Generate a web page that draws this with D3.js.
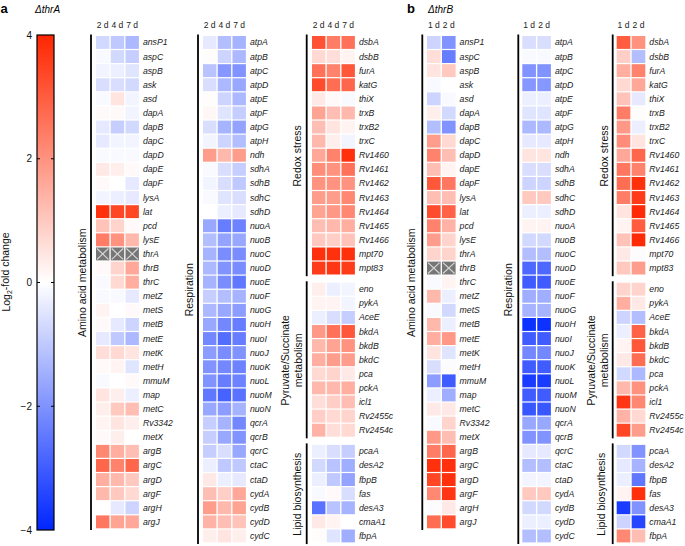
<!DOCTYPE html>
<html lang="en">
<head>
<meta charset="UTF-8">
<script src="https://cdn.jsdelivr.net/npm/d3@7"></script>
<title>thrA / thrB heatmap</title>
<style>
    body { margin: 0; background: #fff; }
    svg { font-family: "Liberation Sans", Arial, sans-serif; }
    .gene { font-size: 8.7px; font-style: italic; fill: #222; }
    .day { font-size: 8.5px; fill: #222; }
    .group { font-size: 10.5px; fill: #111; }
    .cbtick text { font-size: 10px; fill: #111; }
</style>
</head>
<body>
<svg id="chart" width="685" height="546"></svg>
<script>
// ---- data ----
const daysA = ["2 d", "4 d", "7 d"];
const daysB = ["1 d", "2 d"];
const cbTicks = [-4, -2, 0, 2, 4];

const aminoGenes = ["ansP1", "aspC", "aspB", "ask", "asd", "dapA", "dapB", "dapC", "dapD", "dapE", "dapF", "lysA", "lat", "pcd", "lysE", "thrA", "thrB", "thrC", "metZ", "metS", "metB", "metE", "metK", "metH", "mmuM", "map", "metC", "Rv3342", "metX", "argB", "argC", "argD", "argF", "argH", "argJ"];
const respGenes = ["atpA", "atpB", "atpC", "atpD", "atpE", "atpF", "atpG", "atpH", "ndh", "sdhA", "sdhB", "sdhC", "sdhD", "nuoA", "nuoB", "nuoC", "nuoD", "nuoE", "nuoF", "nuoG", "nuoH", "nuoI", "nuoJ", "nuoK", "nuoL", "nuoM", "nuoN", "qcrA", "qcrB", "qcrC", "ctaC", "ctaD", "cydA", "cydB", "cydD", "cydC"];
const redoxGenes = ["dsbA", "dsbB", "furA", "katG", "thiX", "trxB", "trxB2", "trxC", "Rv1460", "Rv1461", "Rv1462", "Rv1463", "Rv1464", "Rv1465", "Rv1466", "mpt70", "mpt83"];
const pyrGenes = ["eno", "pykA", "AceE", "bkdA", "bkdB", "bkdC", "pca", "pckA", "icl1", "Rv2455c", "Rv2454c"];
const lipidGenes = ["pcaA", "desA2", "fbpB", "fas", "desA3", "cmaA1", "fbpA"];

// log2 fold change, ΔthrA (2 d, 4 d, 7 d); null = deleted gene
const aminoA = [[-0.7,-1.0,-1.3],[-0.1,-0.7,-0.9],[-0.2,-0.3,-0.5],[-0.6,-0.6,-0.7],[-0.1,0.5,-0.2],[0.1,0.1,-0.2],[-0.4,-0.9,-0.7],[-0.4,-0.2,-0.2],[-0.1,-0.1,-0.1],[0.4,0.3,0.1],[0.1,0,-0.4],[-0.2,-0.3,-0.4],[3.8,3.4,3.4],[1.1,0.8,0.1],[2.4,2.0,1.3],null,[0.1,0.8,1.6],[-0.1,0.7,1.5],[-0.1,-0.1,-0.4],[0.2,0,0.1],[0.1,-0.4,-0.8],[-0.4,-1.0,-1.3],[0.6,0.7,0.5],[0.1,0.2,-0.5],[-0.1,0,0.1],[0.5,0.3,-0.3],[0.3,1.0,1.2],[0.2,0.5,0.3],[0.1,0.3,0],[2.2,1.5,1.2],[2.8,2.3,2.8],[1.5,1.3,1.0],[1.3,1.0,0.7],[0,-0.4,-0.8],[2.5,1.7,1.6]];
const respA = [[-0.4,-1.2,-1.4],[0.05,-0.8,-1.3],[-1.1,-1.9,-2.0],[-0.6,-1.3,-1.6],[0.05,-0.8,-1.3],[0.15,-0.5,-0.9],[-0.6,-1.4,-1.7],[-0.2,-0.8,-1.2],[1.8,1.3,1.8],[-0.1,-0.6,-0.9],[-0.2,-0.6,-1.0],[-0.1,-0.5,-0.6],[0,-0.3,-0.4],[-1.6,-2.4,-2.3],[-1.2,-1.7,-1.6],[-1.4,-2.1,-2.1],[-1.3,-2.0,-2.1],[-1.4,-2.1,-2.5],[-0.9,-1.2,-1.4],[-1.3,-1.6,-1.8],[-1.6,-2.2,-2.4],[-2.2,-2.7,-2.4],[-1.8,-2.1,-2.0],[-2.0,-2.2,-2.3],[-2.0,-2.4,-2.3],[-2.5,-2.9,-2.6],[-1.6,-1.8,-1.4],[-0.9,-1.4,-2.2],[-0.9,-1.6,-2.0],[-0.9,-0.6,-1.6],[-0.3,-1.0,-1.0],[0.4,-0.3,-0.4],[1.2,0.9,1.6],[1.8,1.3,1.7],[1.4,1.2,1.1],[0.3,0.5,0.3]];
const redoxA = [[3.2,2.4,2.6],[0.7,0.6,0.2],[2.6,2.3,3.1],[3.3,2.7,2.8],[0.4,0.1,-0.1],[1.7,1.2,1.3],[1.2,0.5,0.2],[1.3,0.3,-0.2],[1.6,2.3,3.8],[2.1,2.0,2.6],[2.0,2.0,2.0],[1.8,1.8,2.2],[1.7,1.9,2.2],[1.2,1.3,1.5],[1.0,0.9,1.1],[3.8,3.8,3.8],[3.6,3.7,3.6]];
const pyrA = [[0.3,-0.3,-0.2],[0.2,0.2,-0.2],[-0.3,-0.6,-0.9],[1.9,2.6,3.1],[1.3,1.7,2.0],[1.5,1.8,1.8],[0.7,0.8,0.4],[1.3,1.3,1.5],[0.6,0.9,1.2],[0.9,0.7,0.8],[1.4,0.6,0.7]];
const lipidA = [[-0.3,-0.6,-0.9],[-0.7,-1.1,-1.5],[-0.3,-1.0,-1.7],[-0.1,0.1,-0.6],[-2.6,-1.1,-1.4],[0.4,0.2,0],[0.05,-0.5,-1.5]];

// log2 fold change, ΔthrB (1 d, 2 d)
const aminoB = [[-0.8,-2.0],[0.6,-2.4],[0.5,1.0],[-0.1,0],[-0.8,-0.1],[0.3,-0.7],[-1.2,-2.0],[1.8,0.7],[2.3,1.2],[1.2,0.2],[3.1,2.5],[1.2,1.2],[3.3,2.9],[2.3,1.4],[1.8,0.8],[0.8,0.8],null,[-0.1,0.2],[1.3,-0.3],[-0.1,-0.7],[1.3,-0.3],[1.5,1.9],[0.5,-0.5],[-0.6,-0.05],[-1.8,-3.0],[-0.3,-1.5],[0.4,0.4],[-0.1,0.8],[1.9,1.2],[2.4,2.8],[3.8,3.8],[3.4,3.8],[2.2,3.7],[-0.05,0.4],[2.7,3.3]];
const respB = [[-0.6,-0.6],[-0.1,-0.1],[-2.0,-2.0],[-1.9,-1.9],[-0.3,-0.3],[-0.5,-0.5],[-1.3,-1.3],[-0.4,-0.4],[0.5,0.5],[-0.6,-0.6],[-0.8,-0.8],[1.0,1.0],[-0.3,-0.3],[0.2,0.2],[-0.7,-0.7],[-1.2,-1.2],[-2.8,-2.8],[-3.0,-3.0],[-1.5,-1.5],[-1.4,-1.4],[-3.8,-3.8],[-3.0,-3.0],[-2.2,-2.2],[-3.0,-3.0],[-3.6,-3.6],[-3.0,-3.0],[-3.1,-3.1],[-1.6,-1.6],[-2.0,-2.0],[-0.4,-0.4],[-1.2,-1.2],[-0.2,-0.2],[1.0,1.0],[-0.7,-0.7],[-0.3,-0.3],[-1.2,-1.2]];
const redoxB = [[3.0,2.0],[0.9,-1.2],[1.5,2.3],[0.7,1.6],[1.1,-0.4],[2.4,0.05],[1.9,-0.3],[2.1,0.5],[1.6,2.8],[2.5,2.3],[2.7,3.8],[2.4,3.6],[0.5,3.9],[0.2,3.0],[1.1,3.9],[0.4,-0.05],[1.0,1.8]];
const pyrB = [[0.8,0.8],[1.5,0.4],[-0.8,-1.2],[-0.3,2.9],[0.2,3.1],[0.4,2.7],[-0.7,-1.3],[1.3,2.0],[3.7,2.2],[1.4,0.7],[3.4,1.8]];
const lipidB = [[-0.7,-2.0],[-0.4,-1.4],[-0.3,-2.5],[0.2,3.8],[-3.6,-2.0],[-0.8,-3.4],[2.2,1.2]];

// ---- layout ----
const svg = d3.select("#chart");
const color = d3.scaleLinear().domain([-4, 0, 4]).range(["#0026ff", "#ffffff", "#ff2600"]);
const pitchX = 14.3;
const rowY = d3.scaleLinear().domain([0, 36]).range([36, 36 + 36 * 14.1]);
const rowH = rowY(1) - rowY(0);

const blocks = [
    {genes: aminoGenes, values: aminoA, days: daysA, slot: 0, x0: 96, lineX: 91, label: ["Amino acid metabolism"], labelX: [82], header: true},
    {genes: respGenes, values: respA, days: daysA, slot: 0, x0: 203, lineX: 198, label: ["Respiration"], labelX: [189], header: true},
    {genes: redoxGenes, values: redoxA, days: daysA, slot: 0, x0: 312, lineX: 306.7, label: ["Redox stress"], labelX: [297], header: true},
    {genes: pyrGenes, values: pyrA, days: daysA, slot: 17.5, x0: 312, lineX: 306.7, label: ["Pyruvate/Succinate", "metabolism"], labelX: [285, 298]},
    {genes: lipidGenes, values: lipidA, days: daysA, slot: 29, x0: 312, lineX: 306.7, label: ["Lipid biosynthesis"], labelX: [297]},
    {genes: aminoGenes, values: aminoB, days: daysB, slot: 0, x0: 427, lineX: 422.3, label: ["Amino acid metabolism"], labelX: [411], header: true},
    {genes: respGenes, values: respB, days: daysB, slot: 0, x0: 522.3, lineX: 518.3, label: ["Respiration"], labelX: [508], header: true},
    {genes: redoxGenes, values: redoxB, days: daysB, slot: 0, x0: 616.7, lineX: 612.7, label: ["Redox stress"], labelX: [604], header: true},
    {genes: pyrGenes, values: pyrB, days: daysB, slot: 17.5, x0: 616.7, lineX: 612.7, label: ["Pyruvate/Succinate", "metabolism"], labelX: [591, 604.5]},
    {genes: lipidGenes, values: lipidB, days: daysB, slot: 29, x0: 616.7, lineX: 612.7, label: ["Lipid biosynthesis"], labelX: [601.5]}
];

blocks.forEach(b => {
    const x = d3.scaleBand().domain(b.days).range([b.x0, b.x0 + b.days.length * pitchX]).paddingInner(0.09);
    const g = svg.append("g");
    const top = rowY(b.slot), bottom = rowY(b.slot + b.genes.length);

    b.genes.forEach((gene, i) => {
        const y = rowY(b.slot + i);
        const vals = b.values[i];
        b.days.forEach((day, j) => {
            if (vals === null) {
                const cx = x(day), w = x.bandwidth(), h = rowH - 1.2;
                g.append("rect").attr("x", cx).attr("y", y).attr("width", w).attr("height", h).attr("fill", "#767676");
                g.append("path")
                    .attr("d", `M${cx + 1},${y + 1}L${cx + w - 1},${y + h - 1}M${cx + w - 1},${y + 1}L${cx + 1},${y + h - 1}`)
                    .attr("stroke", "#d8d8d8").attr("stroke-width", 1.1);
            } else {
                g.append("rect")
                    .attr("x", x(day)).attr("y", y)
                    .attr("width", x.bandwidth()).attr("height", rowH - 1.2)
                    .attr("fill", color(vals[j]));
            }
        });
        g.append("text").attr("class", "gene")
            .attr("x", b.x0 + b.days.length * pitchX + 4)
            .attr("y", y + rowH / 2 - 0.6).attr("dy", "0.35em")
            .text(gene);
    });

    if (b.header) {
        g.selectAll(".day").data(b.days).enter().append("text").attr("class", "day")
            .attr("x", d => x(d) + x.bandwidth() / 2).attr("y", 28)
            .attr("text-anchor", "middle").text(d => d);
    }

    g.append("line").attr("x1", b.lineX).attr("x2", b.lineX)
        .attr("y1", top - 1.5).attr("y2", bottom + 0.5)
        .attr("stroke", "#000").attr("stroke-width", 1.8);

    const cy = (top + bottom) / 2;
    b.label.forEach((t, k) => {
        g.append("text").attr("class", "group")
            .attr("transform", `translate(${b.labelX[k]},${cy}) rotate(-90)`)
            .attr("text-anchor", "middle").attr("dy", "0.35em").text(t);
    });
});

// ---- colour bar ----
const cbX = 37, cbW = 17;
const cbScale = d3.scaleLinear().domain([-4, 4]).range([530, 35]);
const grad = svg.append("defs").append("linearGradient").attr("id", "cbgrad")
    .attr("x1", 0).attr("y1", 1).attr("x2", 0).attr("y2", 0);
grad.selectAll("stop").data([-4, 0, 4]).enter().append("stop")
    .attr("offset", d => (d + 4) / 8).attr("stop-color", d => color(d));

svg.append("rect").attr("x", cbX).attr("y", cbScale(4)).attr("width", cbW)
    .attr("height", cbScale(-4) - cbScale(4)).attr("fill", "url(#cbgrad)")
    .attr("stroke", "#000").attr("stroke-width", 1.2);

svg.append("g").attr("class", "cbtick")
    .attr("transform", `translate(${cbX},0)`)
    .call(d3.axisLeft(cbScale).tickValues(cbTicks).tickSize(0).tickPadding(5))
    .call(a => a.select(".domain").remove());

[-2, 0, 2].forEach(v => {
    svg.append("line").attr("x1", cbX).attr("x2", cbX + 3).attr("y1", cbScale(v)).attr("y2", cbScale(v)).attr("stroke", "#000");
    svg.append("line").attr("x1", cbX + cbW - 3).attr("x2", cbX + cbW).attr("y1", cbScale(v)).attr("y2", cbScale(v)).attr("stroke", "#000");
});

const ylab = svg.append("text").attr("class", "group").attr("font-size", "10px")
    .attr("transform", "translate(6,272) rotate(-90)")
    .attr("text-anchor", "middle").attr("dy", "0.35em");
ylab.append("tspan").text("Log");
ylab.append("tspan").attr("font-size", "7px").attr("dy", "0.3em").text("2");
ylab.append("tspan").attr("dy", "-0.3em").text("-fold change");

// ---- panel titles ----
svg.append("text").attr("x", 0.5).attr("y", 13).attr("font-weight", "bold").attr("font-size", "13px").text("a");
svg.append("text").attr("x", 35).attr("y", 13).attr("font-style", "italic").attr("font-size", "10px").text("ΔthrA");
svg.append("text").attr("x", 407).attr("y", 13).attr("font-weight", "bold").attr("font-size", "13px").text("b");
svg.append("text").attr("x", 428).attr("y", 13).attr("font-style", "italic").attr("font-size", "10px").text("ΔthrB");
</script>
</body>
</html>
